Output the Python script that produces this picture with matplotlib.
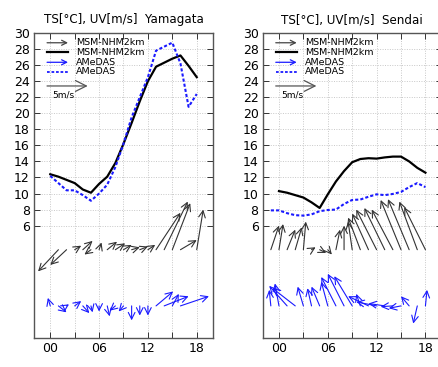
import matplotlib
matplotlib.use("Agg")
import matplotlib.pyplot as plt

# ---------------- data ----------------
hours = list(range(0, 19))
hours_sendai_obs = list(range(-1, 19))

ts_msm_yamagata = [12.4, 12.1, 11.7, 11.3, 10.5, 10.1, 11.2, 12.1, 13.8, 16.2,
                   18.8, 21.5, 24.0, 25.8, 26.3, 26.8, 27.2, 25.9, 24.5]
ts_obs_yamagata = [12.2, 11.3, 10.4, 10.4, 9.8, 9.1, 10.0, 11.1, 13.3, 16.2,
                   19.5, 22.0, 24.5, 27.8, 28.3, 28.8, 26.2, 20.8, 22.4]

ts_msm_sendai = [10.3, 10.1, 9.8, 9.5, 8.9, 8.2, 9.9, 11.5, 12.8, 13.9,
                 14.3, 14.4, 14.35, 14.5, 14.6, 14.6, 14.0, 13.2, 12.6]
ts_obs_sendai = [7.9, 7.9, 7.55, 7.3, 7.25, 7.4, 7.8, 7.95, 8.0, 8.7, 9.2,
                 9.25, 9.6, 9.9, 9.8, 9.95, 10.2, 10.8, 11.3, 10.8]

# wind vectors (u, v) in m/s, hourly
wind_t_msm_yamagata = list(range(1, 20))
u_msm_yamagata = [-2.5, -2.0, 0.8, 1.2, -0.8, 0.3, 1.2, 1.2, 1.0, 1.0, 1.0, 0.9,
                  3.0, 2.9, 2.2, 2.0, 4.0, 0.8, 2.0]
v_msm_yamagata = [-2.7, -1.9, 0.5, 1.1, -0.6, 0.9, 1.0, 0.8, 0.6, 0.3, 0.4, 0.6,
                  4.6, 6.0, 5.8, 1.2, 2.0, 5.0, 1.5]

wind_t_obs_yamagata = list(range(0, 20))
u_obs_yamagata = [-0.3, 1.0, 0.3, 0.8, 0.8, 0.2, 0.0, 0.3, -0.7, -0.6, 0.0, 0.0,
                  0.0, 2.1, 3.0, 0.8, 3.5, 4.0, 3.0, 3.5]
v_obs_yamagata = [1.0, -0.8, 0.2, 0.6, -0.9, -0.8, -0.7, -1.3, -0.6, -0.7, -1.8, -1.2,
                  -1.2, 1.8, 1.2, 1.5, 1.2, 1.5, 1.0, 1.3]

wind_t_msm_sendai = list(range(-1, 19))
u_msm_sendai = [1.0, 0.5, 1.0, 0.8, 0.3, 0.5, 0.8, 0.5, 0.5, 0.0, -0.5, -1.5,
                -2.0, -2.5, -2.5, -2.6, -2.5, -2.6, -2.2, -2.6]
v_msm_sendai = [3.0, 3.2, 2.5, 2.8, 3.5, 0.3, -0.4, -0.6, 2.5, 3.0, 3.5, 4.0,
                4.5, 5.0, 5.2, 5.0, 6.2, 6.3, 6.0, 5.3]

wind_t_obs_sendai = list(range(-1, 19))
u_obs_sendai = [-0.2, -0.5, -2.2, -2.8, -0.7, -0.5, -1.0, -0.8, -1.8, -2.0, -2.2, -0.5,
                -2.5, -2.5, -2.0, -1.5, -1.5, -1.0, -0.5, 0.2]
v_obs_sendai = [2.0, 2.8, 2.5, 2.2, 2.4, 2.2, 2.4, 3.0, 3.6, 4.0, 3.7, 1.5,
                1.2, 0.5, 0.3, -0.1, -0.3, 1.2, -2.2, 2.0]

ref_speed = 5
x_ticks = [0, 3, 6, 9, 12, 15, 18]
x_ticklabels = ["00", "", "06", "", "12", "", "18"]
y_ticks = list(range(6, 31, 2))
date_label = "5/13"
stations = ["Yamagata", "Sendai"]
legend_labels = ["MSM-NHM2km", "MSM-NHM2km", "AMeDAS", "AMeDAS"]

msm_base = 3.0
obs_base = -4.0

BLUE = "#1a1aff"
plt.rcParams["font.family"] = ["DejaVu Sans"]

fig = plt.figure(figsize=(4.39, 3.67), dpi=100)
W, H = 439.0, 367.0
axes_px = [(34, 33, 179, 305), (262.7, 33, 179, 305)]
HEAD = "->,head_length=0.6,head_width=0.3"


def draw_arrows(ax, ts, us, vs, base, color, lw=0.8):
    for t, u, v in zip(ts, us, vs):
        ann = ax.annotate("", xy=(t + u, base + v), xytext=(t, base),
                          arrowprops=dict(arrowstyle=HEAD, color=color, lw=lw,
                                          shrinkA=0, shrinkB=0, mutation_scale=8))
        ann.arrow_patch.set_clip_box(ax.bbox)
        ann.arrow_patch.set_clip_on(True)


datasets = [
    (ts_msm_yamagata, ts_obs_yamagata, hours, hours,
     (wind_t_msm_yamagata, u_msm_yamagata, v_msm_yamagata),
     (wind_t_obs_yamagata, u_obs_yamagata, v_obs_yamagata)),
    (ts_msm_sendai, ts_obs_sendai, hours, hours_sendai_obs,
     (wind_t_msm_sendai, u_msm_sendai, v_msm_sendai),
     (wind_t_obs_sendai, u_obs_sendai, v_obs_sendai)),
]

for (l, b, w, h), name, ds in zip(axes_px, stations, datasets):
    ax = fig.add_axes([l / W, 1 - (b + h) / H, w / W, h / H])
    msm, obs, tm, to, wm, wo = ds
    ax.set_xlim(-2, 20)
    ax.set_ylim(-8, 30)
    ax.set_xticks(x_ticks)
    ax.set_xticklabels(x_ticklabels)
    ax.set_yticks(y_ticks)
    ax.tick_params(direction="in", length=4, width=0.7, top=True, right=True,
                   labelsize=9, colors="#333333", labelcolor="black", pad=3)
    ax.grid(True, color="#c8c8c8", linestyle=(0, (1, 1.5)), linewidth=0.7)
    for sp in ax.spines.values():
        sp.set_color("#555555")
        sp.set_linewidth(1.0)

    ax.plot(tm, msm, color="black", lw=1.6, zorder=3)
    ax.plot(to, obs, color=BLUE, lw=1.5, linestyle=(0, (1.5, 1.0)), zorder=3)

    draw_arrows(ax, *wm, msm_base, "#333333")
    draw_arrows(ax, *wo, obs_base, BLUE)

    # reference arrow
    ax.annotate("", xy=(-0.4 + ref_speed, 23.4), xytext=(-0.4, 23.4),
                arrowprops=dict(arrowstyle=HEAD, color="#555555", lw=0.9,
                                shrinkA=0, shrinkB=0, mutation_scale=13))
    ax.text(0.165, 0.797, f"{ref_speed}m/s", transform=ax.transAxes,
            fontsize=6.5, ha="center", va="center")

    # legend
    rows = [0.968, 0.937, 0.904, 0.873]
    x0, x1, xt = 0.073, 0.19, 0.235
    ax.annotate("", xy=(x1, rows[0]), xytext=(x0, rows[0]), xycoords="axes fraction",
                arrowprops=dict(arrowstyle=HEAD, color="#444444", lw=0.9,
                                shrinkA=0, shrinkB=0, mutation_scale=6))
    ax.plot([x0, x1], [rows[1]] * 2, transform=ax.transAxes, color="black", lw=1.6)
    ax.annotate("", xy=(x1, rows[2]), xytext=(x0, rows[2]), xycoords="axes fraction",
                arrowprops=dict(arrowstyle=HEAD, color=BLUE, lw=0.9,
                                shrinkA=0, shrinkB=0, mutation_scale=6))
    ax.plot([x0, x1], [rows[3]] * 2, transform=ax.transAxes, color=BLUE, lw=1.3,
            linestyle=(0, (1.5, 1.0)))
    for r, lab in zip(rows, legend_labels):
        ax.text(xt, r, lab, transform=ax.transAxes, fontsize=6.8, ha="left", va="center")

    ax.set_title(f"TS[°C], UV[m/s]  {name}", fontsize=8.6, pad=7)
    ax.text(0, -0.10, date_label, transform=ax.get_xaxis_transform(), fontsize=9,
            ha="left", va="top")

fig.savefig("out.png", dpi=100)
